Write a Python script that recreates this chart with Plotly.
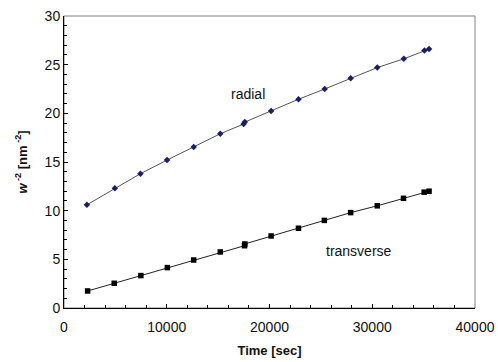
import plotly.graph_objects as go

# Time points [sec] and inverse squared widths [nm^-2]
radial_t = [2230, 4950, 7440, 10030, 12620, 15210, 17480, 17600, 20160, 22820,
            25370, 27900, 30490, 33070, 35080, 35530]
radial_w = [10.6, 12.3, 13.8, 15.2, 16.55, 17.9, 18.9, 19.1, 20.25, 21.45,
            22.5, 23.6, 24.7, 25.6, 26.45, 26.6]

transverse_t = [2300, 4890, 7480, 10060, 12620, 15210, 17570, 17600, 20160, 22820,
                25340, 27900, 30490, 33040, 35050, 35530]
transverse_w = [1.75, 2.54, 3.33, 4.15, 4.93, 5.76, 6.4, 6.58, 7.4, 8.19,
                9.0, 9.8, 10.5, 11.27, 11.9, 12.0]

x_ticks = [0, 10000, 20000, 30000, 40000]
y_ticks = [0, 5, 10, 15, 20, 25, 30]

FONT = "Liberation Sans, Arial, sans-serif"

fig = go.Figure()
fig.add_trace(go.Scatter(
    x=radial_t, y=radial_w, mode="lines+markers", name="radial",
    line=dict(color="#555555", width=1),
    marker=dict(symbol="diamond", size=5, color="#1c1c6b"),
))
fig.add_trace(go.Scatter(
    x=transverse_t, y=transverse_w, mode="lines+markers", name="transverse",
    line=dict(color="#222222", width=1),
    marker=dict(symbol="square", size=5.5, color="#000000"),
))

fig.add_annotation(x=17860, y=22.0, text="radial", showarrow=False,
                   font=dict(family=FONT, size=14, color="#111111"))
fig.add_annotation(x=28740, y=5.86, text="transverse", showarrow=False,
                   font=dict(family=FONT, size=14, color="#111111"))

# Gray frame around the plot area
fig.add_shape(type="rect", xref="paper", yref="paper", x0=0, y0=0, x1=1, y1=1,
              line=dict(color="#808080", width=1), layer="below")

fig.update_xaxes(
    range=[0, 40000], tickvals=x_ticks, ticktext=[str(v) for v in x_ticks],
    showgrid=False, zeroline=False, showline=True, linecolor="#000000", linewidth=1,
    ticks="inside", ticklen=4, tickcolor="#000000",
    minor=dict(dtick=2000, ticks="inside", ticklen=3, tickcolor="#000000"),
    tickfont=dict(family=FONT, size=14, color="#111111"),
    ticklabelstandoff=6,
    title=dict(text="<b>Time [sec]</b>", font=dict(family=FONT, size=13, color="#111111"),
               standoff=12),
    automargin=False,
)
fig.update_yaxes(
    range=[0, 30], tickvals=y_ticks, ticktext=[str(v) for v in y_ticks],
    showgrid=False, zeroline=False, showline=True, linecolor="#000000", linewidth=1,
    ticks="inside", ticklen=4, tickcolor="#000000",
    minor=dict(dtick=1, ticks="inside", ticklen=3, tickcolor="#000000"),
    tickfont=dict(family=FONT, size=14, color="#111111"),
    title=dict(text="<b><i>w</i><sup> -2</sup> [nm<sup> -2</sup>]</b>",
               font=dict(family=FONT, size=13, color="#111111"), standoff=14),
    automargin=False,
)

fig.update_layout(
    width=498, height=362,
    margin=dict(l=64, r=23, t=16, b=54),
    paper_bgcolor="white", plot_bgcolor="white",
    showlegend=False,
)

fig.write_html("out.html")
